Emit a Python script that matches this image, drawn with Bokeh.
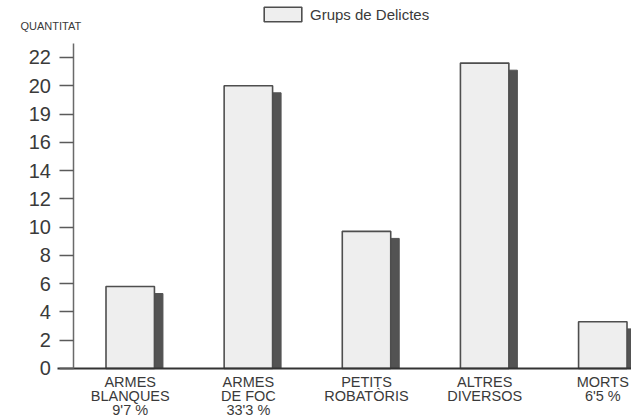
from bokeh.plotting import figure
from bokeh.models import Range1d, FixedTicker, Legend, LegendItem, Label, ColumnDataSource, LinearAxis
from bokeh.embed import file_html
from bokeh.resources import INLINE

# ---- data ----
categories = ["ARMES\nBLANQUES\n9'7 %", "ARMES\nDE FOC\n33'3 %", "PETITS\nROBATÒRIS",
              "ALTRES\nDIVERSOS", "MORTS\n6'5 %"]
values = [5.8, 20.0, 9.7, 21.6, 3.3]
y_ticks = [0, 2, 4, 6, 8, 10, 12, 14, 16, 18, 20, 22]
y_tick_labels = ["0", "2", "4", "6", "8", "10", "12", "14", "16", "19", "20", "22"]
series_name = "Grups de Delictes"
y_title = "QUANTITAT"

# ---- styling / layout constants ----
TXT = "#3a3a3a"
FONT = "Liberation Sans"
BAR_W = 0.41
SH_DX = 0.072   # shadow shift (x units)
SH_DY = 0.5     # shadow drop (y units)
X_START, X_END = -1.098, 4.243
Y_START, Y_END = -3.61, 26.03
Y_AXIS_AT = -0.476

xs = list(range(len(categories)))
src = ColumnDataSource(dict(x=xs, top=values))
shadow_src = ColumnDataSource(dict(x=[x + SH_DX for x in xs], top=[v - SH_DY for v in values]))

p = figure(width=631, height=419,
           x_range=Range1d(X_START, X_END), y_range=Range1d(Y_START, Y_END),
           output_backend="svg", toolbar_location=None,
           x_axis_location=None, y_axis_location=None,
           min_border=0)
p.outline_line_color = None
p.xgrid.grid_line_color = None
p.ygrid.grid_line_color = None
p.background_fill_color = "white"

p.vbar(x="x", top="top", bottom=0, width=BAR_W, source=shadow_src,
       fill_color="#535353", line_color="#535353", line_width=1)
bars = p.vbar(x="x", top="top", bottom=0, width=BAR_W, source=src,
              fill_color="#eeeeee", line_color="#4e4e4e", line_width=1.6)

# y axis placed inside the frame
ya = LinearAxis(fixed_location=Y_AXIS_AT)
p.add_layout(ya, "left")
ya.ticker = FixedTicker(ticks=y_ticks)
ya.major_label_overrides = {t: s for t, s in zip(y_ticks, y_tick_labels)}
ya.bounds = (0, 23)
ya.axis_line_color = "#6a6a6a"
ya.axis_line_width = 1.5
ya.major_tick_out = 14
ya.major_tick_in = 0
ya.major_tick_line_color = "#5a5a5a"
ya.major_tick_line_width = 1.5
ya.minor_tick_out = 0
ya.minor_tick_in = 0
ya.major_label_text_font = FONT
ya.major_label_text_font_size = "20px"
ya.major_label_text_color = TXT
ya.major_label_standoff = 9

# x axis at value 0, inside the frame
xa = LinearAxis(fixed_location=0)
p.add_layout(xa, "below")
xa.ticker = FixedTicker(ticks=xs)
xa.major_label_overrides = {x: c for x, c in zip(xs, categories)}
xa.bounds = (-0.615, X_END)
xa.axis_line_color = "#333333"
xa.axis_line_width = 2
xa.major_tick_out = 0
xa.major_tick_in = 0
xa.minor_tick_out = 0
xa.minor_tick_in = 0
xa.major_label_text_font = FONT
xa.major_label_text_font_size = "14.5px"
xa.major_label_text_color = TXT
xa.major_label_text_line_height = 0.85
xa.major_label_standoff = 6

legend = Legend(items=[LegendItem(label=series_name, renderers=[bars])],
                location=(259, 396), glyph_width=47, glyph_height=18,
                label_height=18, label_standoff=4, padding=0, margin=0, spacing=0,
                border_line_color=None, background_fill_alpha=0,
                label_text_font=FONT, label_text_font_size="15px", label_text_color=TXT)
p.add_layout(legend)

p.add_layout(Label(x=20, y=394, x_units="screen", y_units="screen", text=y_title,
                   text_font="Liberation Sans Narrow, Liberation Sans", text_font_size="11px",
                   text_baseline="middle", text_color=TXT))

open("out.html", "w").write(file_html(p, INLINE))
